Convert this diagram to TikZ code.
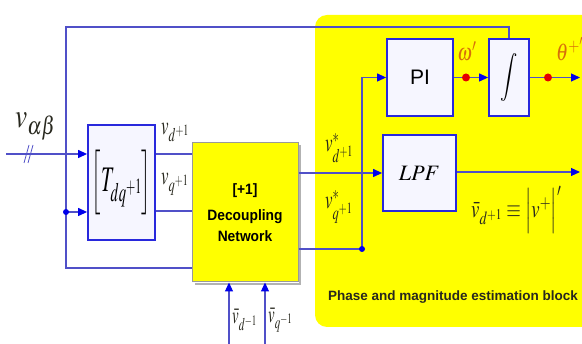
\documentclass[tikz,border=0pt]{standalone}
\usepackage{mathptmx}
\usepackage{fontspec}
\newfontfamily\arial{Liberation Sans}
\usetikzlibrary{arrows.meta,calc}
\definecolor{ln}{RGB}{80,80,200}
\definecolor{bd}{RGB}{40,40,220}
\definecolor{ar}{RGB}{0,0,235}
\definecolor{yl}{RGB}{255,255,0}
\definecolor{org}{RGB}{215,110,10}
\definecolor{bfill}{RGB}{246,246,255}
\definecolor{dkl}{RGB}{40,40,30}
\newcommand{\cnd}[2][0.78]{\scalebox{#1}[1]{#2}}
\begin{document}
\begin{tikzpicture}[x=1pt,y=-1pt,
  blk/.style={draw=bd,line width=1.8pt,fill=bfill,inner sep=0pt},
  decblk/.style={draw=gray!80,line width=1pt,fill=yl,inner sep=0pt,align=center,font=\arial\bfseries\fontsize{15}{21}\selectfont},
  conn/.style={draw=ln,line width=1.2pt},
  arr/.style={conn,-{Triangle[length=9pt,width=8pt,color=ar]}},
  bdot/.style={circle,fill=ar,inner sep=0pt,minimum size=6pt},
  rdot/.style={circle,fill=red!90!black,inner sep=0pt,minimum size=8pt},
  lbl/.style={text=dkl,inner sep=0pt},
  olbl/.style={text=org,inner sep=0pt}]
\clip (0,0) rectangle (582,344);
\fill[white] (0,0) rectangle (582,344);
% yellow estimation region
\fill[yl,rounded corners=12pt] (315,15) rectangle (620,327);
\node[font=\arial\bfseries\fontsize{13.5}{16}\selectfont,text=dkl] (phase) at (453,297) {Phase and magnitude estimation block};
% blocks
\node[blk,minimum width=67pt,minimum height=115pt] (T) at (121.5,182.5)
  {\cnd[0.55]{\fontsize{36}{36}\selectfont$\left[\rule[-16pt]{0pt}{46pt}T_{dq^{+1}}\right]$}};
\node[decblk,minimum width=106pt,minimum height=139pt] (DEC) at (245,212.5) {\cnd[0.92]{[+1]}\\[5pt]\cnd[0.92]{Decoupling}\\\cnd[0.92]{Network}};
\draw[gray!60,line width=1.5pt] ($(DEC.north east)+(1.5,3)$) -- ($(DEC.south east)+(1.5,1.5)$) -- ($(DEC.south west)+(3,1.5)$);
\node[blk,minimum width=66pt,minimum height=77pt,font=\arial\fontsize{21}{21}\selectfont] (PI) at (420,77.5) {PI};
\node[blk,minimum width=40pt,minimum height=77pt] (INT) at (509,77.5) {\cnd[0.8]{\fontsize{24}{24}\selectfont$\displaystyle\int$}};
\node[blk,minimum width=73pt,minimum height=76pt] (LPF) at (419.5,173) {\fontsize{22}{22}\selectfont$LPF$};
% coordinates
\coordinate (in) at (6,154);
\coordinate (top) at (66,27);
\coordinate (fb) at (66,212);
\coordinate (j2) at (362,249);
\coordinate (b1) at (229,346);
\coordinate (b2) at (265,346);
\coordinate (wout) at (466,77.5);
\coordinate (tout) at (548,77.5);
\coordinate (tend) at (580,77.5);
\coordinate (lend) at (580,172);
% connectors
\draw[arr] (in) -- (T.west|-in);
\draw[ln,line width=0.8pt] (24,163) -- (29,145) (28,163) -- (33,145);
\draw[conn] (INT.north) |- (top) |- (DEC.west|-0,268);
\draw[arr] (fb) -- (T.west|-fb);
\node[bdot] (fbd) at (fb) {};
\draw[conn] (T.east|-0,154) -- (DEC.west|-0,154);
\draw[conn] (T.east|-0,211) -- (DEC.west|-0,211);
\draw[arr] (DEC.east|-LPF.west) -- (LPF.west);
\draw[conn] (DEC.east|-j2) -- (j2);
\draw[arr] (j2) |- (PI.west);
\node[bdot] (j2d) at (j2) {};
\draw[conn] (PI.east) -- (wout);
\draw[arr] (wout) -- (INT.west);
\node[rdot] (wd) at (wout) {};
\draw[conn] (INT.east) -- (tout);
\draw[arr] (tout) -- (tend);
\node[rdot] (td) at (tout) {};
\draw[arr] (LPF.east|-lend) -- (lend);
\draw[arr] (b1) -- (b1|-DEC.south);
\draw[arr] (b2) -- (b2|-DEC.south);
% labels
\node[lbl,anchor=west] (lab) at (15,126) {\cnd[0.8]{\fontsize{34}{34}\selectfont$v_{\alpha\beta}$}};
\node[lbl,anchor=west] (lvd) at (161,132) {\cnd[0.65]{\fontsize{26}{26}\selectfont$v_{d^{+1}}$}};
\node[lbl,anchor=west] (lvq) at (161,184) {\cnd[0.65]{\fontsize{26}{26}\selectfont$v_{q^{+1}}$}};
\node[lbl,anchor=west] (lvsd) at (325,148) {\cnd[0.65]{\fontsize{26}{26}\selectfont$v^{*}_{d^{+1}}$}};
\node[lbl,anchor=west] (lvsq) at (325,207) {\cnd[0.65]{\fontsize{26}{26}\selectfont$v^{*}_{q^{+1}}$}};
\node[olbl] (lw) at (467,51) {\cnd[0.8]{\fontsize{24}{24}\selectfont$\omega'$}};
\node[olbl,anchor=west] (lt) at (556,49) {\cnd[0.8]{\fontsize{24}{24}\selectfont$\theta^{+'}$}};
\node[lbl,anchor=west] (lmag) at (471,210) {\cnd[0.75]{\fontsize{25}{25}\selectfont$\bar v_{d^{+1}}\equiv\left|\rule[-16pt]{0pt}{44pt}v^{+}\right|'$}};
\node[lbl,anchor=west] (lbd) at (232,320) {\cnd[0.62]{\fontsize{24}{24}\selectfont$\bar v_{d^{-1}}$}};
\node[lbl,anchor=west] (lbq) at (268,320) {\cnd[0.62]{\fontsize{24}{24}\selectfont$\bar v_{q^{-1}}$}};
\end{tikzpicture}
\end{document}
